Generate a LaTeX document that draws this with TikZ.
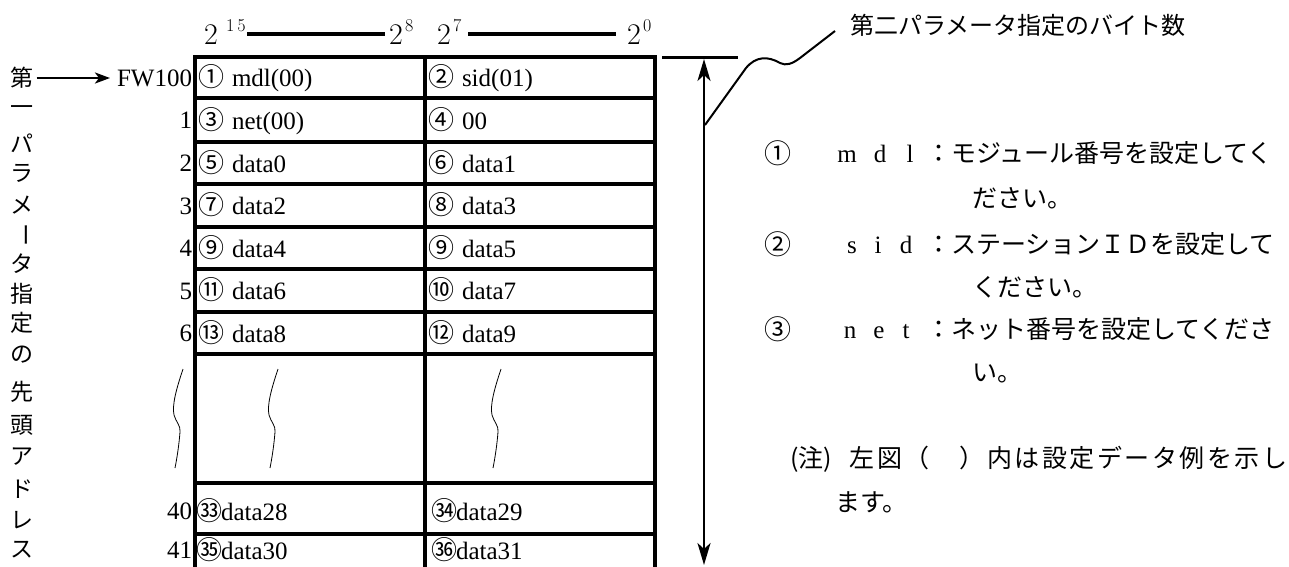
\documentclass[tikz,border=0pt]{standalone}
\usepackage{fontspec}
\setmainfont{Liberation Serif}
\newfontfamily\jp{Noto Sans CJK JP}
\newfontfamily\jpls{Noto Sans CJK JP}[LetterSpace=10]
\newfontfamily\lmr{Latin Modern Roman}
\usetikzlibrary{arrows.meta}
\newcommand\cnum[1]{{\jp\fontsize{26}{26}\selectfont #1}}
\newcommand\cnumb[1]{{\jp\fontsize{26}{26}\selectfont #1}}
\begin{document}
\begin{tikzpicture}[x=1pt,y=-1pt,
  every node/.style={inner sep=0pt, outer sep=0pt},
  cell/.style={anchor=base west, font=\fontsize{25}{25}\selectfont},
  rownum/.style={anchor=base east, font=\fontsize{25}{25}\selectfont},
  vchar/.style={font=\jp\fontsize{23}{23}\selectfont},
  note/.style={anchor=base west, font=\jp\fontsize{25}{25}\selectfont},
  lat/.style={anchor=base, font=\fontsize{25}{25}\selectfont},
  hdr/.style={anchor=base west, font=\lmr\fontsize{30}{30}\selectfont},
  hsup/.style={anchor=base west, font=\lmr\fontsize{18}{18}\selectfont},
  tableline/.style={line width=4pt},
  wave/.pic={\draw[line width=0.8pt] (0,0) .. controls (-7,21) and (-11,36) .. (-9,46) .. controls (-7,53) and (-2,57) .. (-3,63) .. controls (-4,76) and (-6,89) .. (-8,99);}
]
\useasboundingbox (0,0) rectangle (1289,566);

% header
\node[hdr] (h15) at (204,44) {2};
\node[hsup] (s15) at (226,31) {1\hspace{3pt}5};
\node[hdr] (h8) at (389,44) {2};
\node[hsup] (s8) at (405,31) {8};
\node[hdr] (h7) at (437,44) {2};
\node[hsup] (s7) at (453,31) {7};
\node[hdr] (h0) at (627,44) {2};
\node[hsup] (s0) at (643,31) {0};
\draw[line width=3.5pt] (247,34) -- (385,34);
\draw[line width=3.5pt] (468,34) -- (616,34);

% table
\draw[tableline] (193,57) -- (657,57);
\foreach \yy in {98,142,184,227,269,312,354,483,534}
  \draw[tableline] (195,\yy) -- (655,\yy);
\draw[tableline] (195,57) -- (195,570);
\draw[tableline] (425,57) -- (425,570);
\draw[tableline] (655,55) -- (655,570);

% row numbers
\node[rownum] (fw) at (192,86) {FW100};
\node[rownum] (r1) at (192,128.5) {1};
\node[rownum] (r2) at (192,171.5) {2};
\node[rownum] (r3) at (192,214) {3};
\node[rownum] (r4) at (192,256.5) {4};
\node[rownum] (r5) at (192,299) {5};
\node[rownum] (r6) at (192,341.5) {6};
\node[rownum] (r40) at (192,519.5) {40};
\node[rownum] (r41) at (192,558.5) {41};

% cells
\node[cell] (a1) at (198,86.5) {\cnum{①}\hspace{8pt}mdl(00)};
\node[cell] (b1) at (428,86.5) {\cnum{②}\hspace{8pt}sid(01)};
\node[cell] (a2) at (198,129) {\cnum{③}\hspace{8pt}net(00)};
\node[cell] (b2) at (428,129) {\cnum{④}\hspace{8pt}00};
\node[cell] (a3) at (198,172) {\cnum{⑤}\hspace{8pt}data0};
\node[cell] (b3) at (428,172) {\cnum{⑥}\hspace{8pt}data1};
\node[cell] (a4) at (198,214.5) {\cnum{⑦}\hspace{8pt}data2};
\node[cell] (b4) at (428,214.5) {\cnum{⑧}\hspace{8pt}data3};
\node[cell] (a5) at (198,257) {\cnum{⑨}\hspace{8pt}data4};
\node[cell] (b5) at (428,257) {\cnum{⑨}\hspace{8pt}data5};
\node[cell] (a6) at (198,299.5) {\cnum{⑪}\hspace{8pt}data6};
\node[cell] (b6) at (428,299.5) {\cnum{⑩}\hspace{8pt}data7};
\node[cell] (a7) at (198,342) {\cnum{⑬}\hspace{8pt}data8};
\node[cell] (b7) at (428,342) {\cnum{⑫}\hspace{8pt}data9};
\node[cell] (a40) at (196,520) {\cnumb{㉝}\hspace{-1pt}data28};
\node[cell] (b40) at (431,520) {\cnumb{㉞}\hspace{-1pt}data29};
\node[cell] (a41) at (196,559) {\cnumb{㉟}\hspace{-1pt}data30};
\node[cell] (b41) at (431,559) {\cnumb{㊱}\hspace{-1pt}data31};

% break marks
\pic at (183,369) {wave};
\pic at (278,369) {wave};
\pic at (501,369) {wave};

% vertical label
\node[vchar] (v1) at (22,78) {第};
\node[vchar] (v2) at (22,111) {一};
\node[vchar] (v3) at (22,143) {パ};
\node[vchar] (v4) at (22,173) {ラ};
\node[vchar] (v5) at (22,205) {メ};
\node[vchar,rotate=-90] (v6) at (22,235) {ー};
\node[vchar] (v7) at (22,264) {タ};
\node[vchar] (v8) at (22,294) {指};
\node[vchar] (v9) at (22,323) {定};
\node[vchar] (v10) at (22,355) {の};
\node[vchar] (v11) at (22,392) {先};
\node[vchar] (v12) at (22,425) {頭};
\node[vchar] (v13) at (22,457) {ア};
\node[vchar] (v14) at (22,489) {ド};
\node[vchar] (v15) at (22,520) {レ};
\node[vchar] (v16) at (22,550) {ス};
\draw[line width=2.5pt,-{Stealth[length=15pt,width=11pt,inset=4pt]},shorten <=3pt,shorten >=7pt] (v1.east) -- (v1.east -| fw.west);

% byte-count arrow
\coordinate (atop) at (704,59);
\coordinate (abot) at (704,565);
\draw[line width=3pt] (662,57) -- (738,57);
\draw[line width=2.5pt,{Stealth[length=22pt,width=13pt,inset=6pt]}-{Stealth[length=22pt,width=13pt,inset=6pt]}] (atop) -- (abot);
\coordinate (co) at (705,125);
\node[note,font=\jp\fontsize{24}{24}\selectfont] (title) at (850,34) {第二パラメータ指定のバイト数};
\draw[line width=2pt] (co) -- (746,68) .. controls (756,56) and (768,56) .. (780,63) .. controls (786,66) and (792,64) .. (800,58) -- (835,31);

% notes
\node[note,font=\jp\fontsize{27}{27}\selectfont] (n1) at (764,163) {①};
\node[lat] (n1a) at (847,162.5) {m};
\node[lat] (n1b) at (880,162.5) {d};
\node[lat] (n1c) at (910,162.5) {l};
\node[note] (n1t) at (926,162.5) {：モジュール番号を設定してく};
\node[note] (n1u) at (972,207.5) {ださい。};
\node[note,font=\jp\fontsize{27}{27}\selectfont] (n2) at (764,254) {②};
\node[lat] (n2a) at (852,253.5) {s};
\node[lat] (n2b) at (878,253.5) {i};
\node[lat] (n2c) at (906,253.5) {d};
\node[note] (n2t) at (926,253.5) {：ステーションＩＤを設定して};
\node[note] (n2u) at (972,296.5) {ください。};
\node[note,font=\jp\fontsize{27}{27}\selectfont] (n3) at (764,339) {③};
\node[lat] (n3a) at (850,338.5) {n};
\node[lat] (n3b) at (879,338.5) {e};
\node[lat] (n3c) at (906,338.5) {t};
\node[note] (n3t) at (926,338.5) {：ネット番号を設定してくださ};
\node[note] (n3u) at (972,381.5) {い。};
\node[note] (nz) at (790,467.5) {(注)};
\node[note,anchor=base east,font=\jpls\fontsize{25}{25}\selectfont] (nzt) at (1287,467.5) {左図（　）内は設定データ例を示し};
\node[note] (nzu) at (835,511.5) {ます。};
\end{tikzpicture}
\end{document}
